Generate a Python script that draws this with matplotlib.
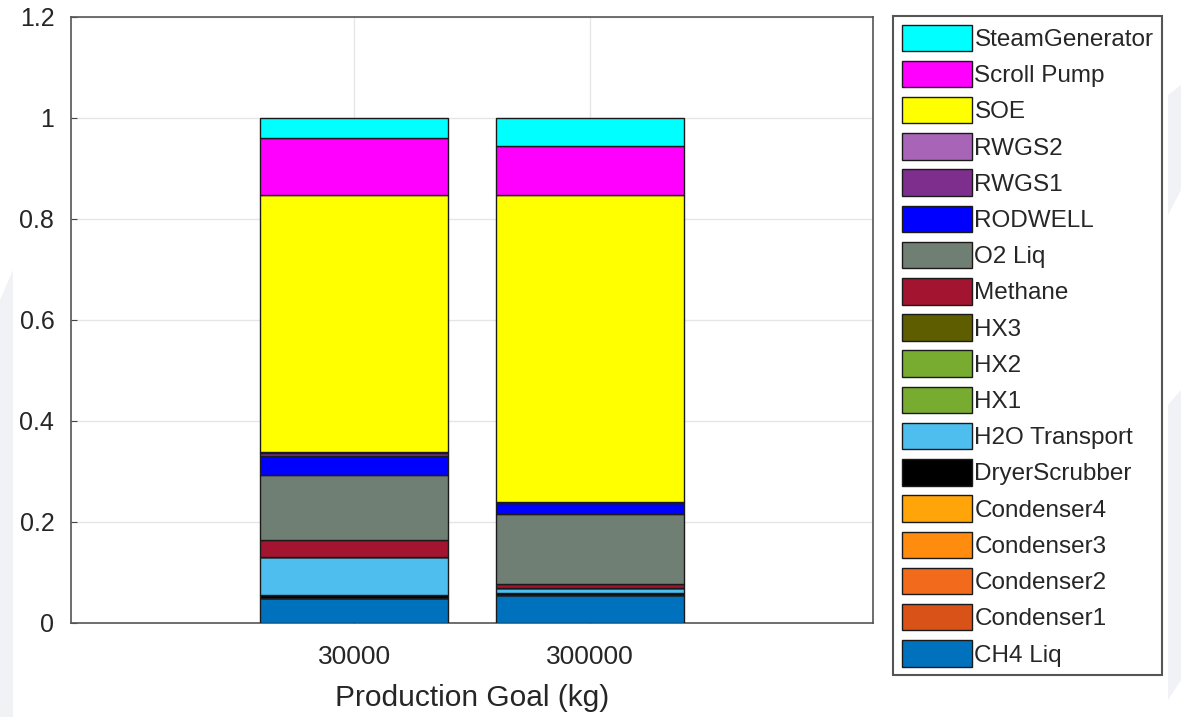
import numpy as np
import matplotlib.pyplot as plt
from matplotlib.patches import Polygon

plt.rcParams["font.family"] = ["Liberation Sans", "DejaVu Sans"]

# Production goals on the x axis
goals = ["30000", "300000"]

# Components, stacked from the bottom up
components = ["CH4 Liq", "Condenser1", "Condenser2", "Condenser3", "Condenser4",
              "DryerScrubber", "H2O Transport", "HX1", "HX2", "HX3", "Methane",
              "O2 Liq", "RODWELL", "RWGS1", "RWGS2", "SOE", "Scroll Pump",
              "SteamGenerator"]

# Normalised share of each component for 30000 kg and 300000 kg
share_30000 = [0.048, 0.0, 0.0, 0.0, 0.0, 0.007, 0.075, 0.0, 0.0, 0.0, 0.034,
               0.129, 0.037, 0.005, 0.002, 0.511, 0.112, 0.040]
share_300000 = [0.055, 0.0, 0.0, 0.0, 0.0, 0.004, 0.009, 0.0, 0.0, 0.0, 0.009,
                0.139, 0.020, 0.001, 0.001, 0.610, 0.097, 0.055]

colors = ["#0072BD", "#D95319", "#F26B1D", "#FF8C0F", "#FFA50A",
          "#000000", "#4DBEEE", "#77AC30", "#77AC30", "#5E5E00", "#A2142F",
          "#707F73", "#0000FF", "#7E2F8E", "#A865B8", "#FFFF00", "#FF00FF",
          "#00FFFF"]

W, H = 1181, 717
fig = plt.figure(figsize=(W / 100, H / 100), dpi=100)

# faint background shapes along the edges (pixel coords, y from top)
for pts in ([(0, 300), (13, 270), (13, 717), (0, 717)],
            [(1168, 95), (1181, 85), (1181, 190), (1168, 215)],
            [(1168, 405), (1181, 390), (1181, 680), (1168, 700)]):
    fig.patches.append(Polygon([(x / W, 1 - y / H) for x, y in pts], closed=True,
                               transform=fig.transFigure, facecolor="#f1f2f5",
                               edgecolor="none", zorder=0))

ax = fig.add_axes([71 / W, 94.5 / H, 802 / W, 605.5 / H])

x = np.arange(1, len(goals) + 1)
data = np.array([share_30000, share_300000]).T
bottom = np.zeros(len(goals))
handles = []
for name, vals, col in zip(components, data, colors):
    h = ax.bar(x, vals, width=0.8, bottom=bottom, color=col, edgecolor="#1a1a1a",
               linewidth=1.0, label=name, zorder=3)
    handles.append(h)
    bottom += vals

ax.set_xlim(-0.2, 3.2)
ax.set_ylim(0, 1.2)
ax.set_xticks(x)
ax.set_xticklabels(goals)
ax.set_yticks(np.arange(0, 1.21, 0.2))
ax.set_yticklabels(["0", "0.2", "0.4", "0.6", "0.8", "1", "1.2"])
ax.grid(True, color="#e6e6e6", linewidth=1.0, zorder=0)
ax.tick_params(direction="in", length=4, colors="#444444", labelcolor="#262626")
ax.tick_params(axis="x", labelsize=19, pad=16)
ax.tick_params(axis="y", labelsize=18, pad=12)
for s in ax.spines.values():
    s.set_color("#555555")
    s.set_linewidth(1.2)
ax.set_xlabel("Production Goal (kg)", fontsize=21.5, color="#262626", labelpad=11)

leg = fig.legend(handles[::-1], components[::-1], loc="upper left",
                 bbox_to_anchor=(893 / W, 1 - 16 / H), fontsize=17.5,
                 handlelength=2.88, handleheight=1.3, handletextpad=0.12,
                 labelspacing=0.40, borderpad=0.35, borderaxespad=0,
                 fancybox=False, framealpha=1)
leg.get_frame().set_edgecolor("#555555")
leg.get_frame().set_linewidth(1.5)
for t in leg.get_texts():
    t.set_color("#262626")

fig.savefig("out.png", dpi=100)
